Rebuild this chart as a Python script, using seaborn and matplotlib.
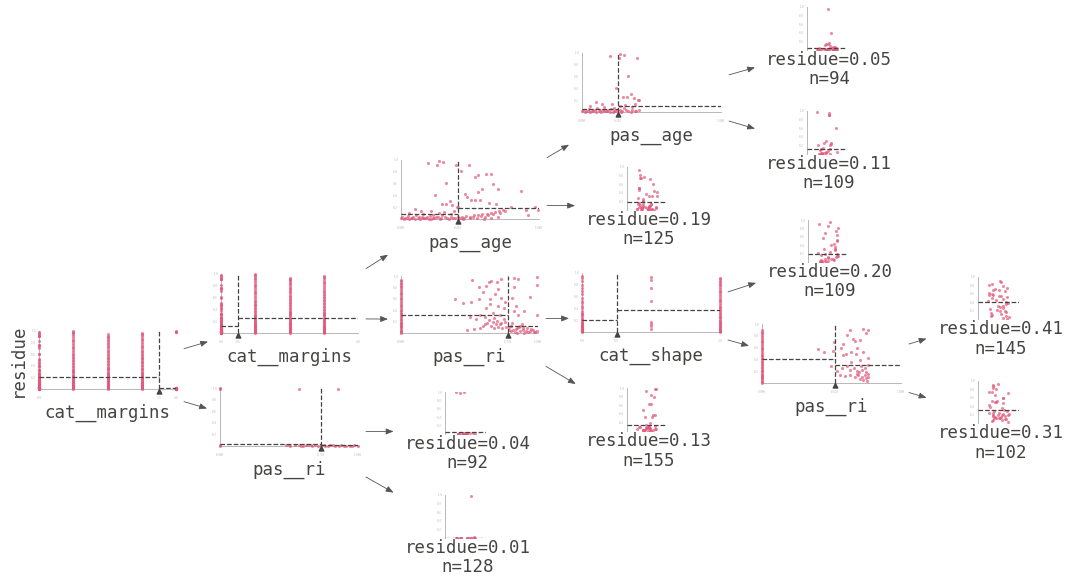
import numpy as np
import matplotlib.pyplot as plt
import seaborn as sns
from matplotlib.patches import FancyArrowPatch

np.random.seed(0)
sns.set_style("white")
plt.rcParams["font.family"] = ["DejaVu Sans Mono", "DejaVu Sans"]

PINK = "#E3587A"
DARK = "#444443"
AXIS = "#b8b8b8"
W, H = 1068, 580

leaf_names = ["L1", "L2", "L3", "L4", "L5", "L6", "L7", "L8", "L9"]
leaf_residue = [0.05, 0.11, 0.19, 0.13, 0.41, 0.31, 0.04, 0.01, 0.20]
leaf_n = [94, 109, 125, 155, 145, 102, 92, 128, 109]

children = {"root": ("n2", "n3"), "n2": ("n4", "n5"), "n3": ("L7", "L8"),
            "n4": ("n6", "L3"), "n5": ("n7", "L4"), "n6": ("L1", "L2"),
            "n7": ("L9", "n8"), "n8": ("L5", "L6")}
features = {"root": "cat__margins", "n2": "cat__margins", "n3": "pas__ri",
            "n4": "pas__age", "n5": "pas__ri", "n6": "pas__age",
            "n7": "cat__shape", "n8": "pas__ri"}
splits = {"root": 3.5, "n2": 0.5, "n3": 0.734, "n4": 0.415, "n5": 0.778,
          "n6": 0.257, "n7": 0.5, "n8": 0.528}
feature_range = {"cat__margins": (0, 4), "cat__shape": (0, 2),
                 "pas__ri": (0, 1), "pas__age": (0, 1)}

# ---- samples shown in the nodes ----
margins_1_res = [0.0, 0.01, 0.015, 0.02, 0.03, 0.04, 0.05, 0.06, 0.07, 0.08, 0.09, 0.1, 0.11,
                 0.12, 0.13, 0.14, 0.16, 0.17, 0.19, 0.2, 0.22, 0.23, 0.25, 0.27, 0.29, 0.31,
                 0.33, 0.35, 0.38, 0.4, 0.43, 0.45, 0.48, 0.5, 0.53, 0.55, 0.58, 0.61, 0.64,
                 0.67, 0.7, 0.73, 0.76, 0.79, 0.82, 0.85, 0.88, 0.91, 0.94, 0.96, 0.98, 1.0]
margins_2_res = [0.0, 0.01, 0.02, 0.03, 0.04, 0.05, 0.06, 0.07, 0.08, 0.09, 0.1, 0.115, 0.13,
                 0.145, 0.16, 0.175, 0.19, 0.21, 0.22, 0.24, 0.26, 0.28, 0.3, 0.32, 0.34, 0.36,
                 0.38, 0.41, 0.43, 0.46, 0.48, 0.51, 0.53, 0.56, 0.58, 0.61, 0.63, 0.66, 0.69,
                 0.72, 0.74, 0.77, 0.8, 0.83, 0.85, 0.88, 0.9, 0.92, 0.94]
margins_3_res = [0.0, 0.01, 0.02, 0.03, 0.04, 0.05, 0.06, 0.07, 0.08, 0.09, 0.1, 0.11, 0.125,
                 0.14, 0.155, 0.17, 0.185, 0.2, 0.22, 0.24, 0.26, 0.28, 0.3, 0.32, 0.34, 0.36,
                 0.39, 0.41, 0.44, 0.46, 0.49, 0.51, 0.54, 0.56, 0.59, 0.61, 0.64, 0.66, 0.69,
                 0.72, 0.75, 0.78, 0.81, 0.84, 0.87, 0.9, 0.93, 0.95, 0.97]

# (pas__ri, residue) for cat__margins == 4
n3_pts = [(0.0, 1.0), (0.0, 0.98), (0.576, 0.99), (0.857, 0.98), (0.0, 0.02), (0.0, 0.0),
          (0.48, 0.01), (0.51, 0.0), (0.54, 0.02), (0.57, 0.01), (0.6, 0.0), (0.62, 0.01),
          (0.64, 0.02), (0.67, 0.0), (0.69, 0.01), (0.71, 0.0), (0.73, 0.01), (0.76, 0.0),
          (0.78, 0.0), (0.8, 0.01), (0.83, 0.0), (0.86, 0.0), (0.88, 0.01), (0.91, 0.0),
          (0.94, 0.0), (0.97, 0.01), (1.0, 0.0), (0.5, 0.02), (0.59, 0.0), (0.66, 0.01),
          (0.75, 0.02), (0.82, 0.01), (0.9, 0.0), (0.96, 0.0)]

# (pas__age, residue) for cat__margins == 0
n4_pts = [(0.199, 0.95), (0.276, 0.975), (0.305, 0.965), (0.264, 0.91), (0.396, 0.91),
          (0.329, 0.61), (0.247, 0.40), (0.295, 0.26), (0.324, 0.26), (0.355, 0.31),
          (0.372, 0.23), (0.403, 0.2), (0.41, 0.21), (0.103, 0.17), (0.144, 0.14),
          (0.06, 0.11), (0.156, 0.09), (0.216, 0.14), (0.233, 0.07), (0.276, 0.11),
          (0.31, 0.12), (0.36, 0.09), (0.384, 0.14), (0.0, 0.01), (0.03, 0.02), (0.06, 0.0),
          (0.09, 0.03), (0.12, 0.01), (0.15, 0.04), (0.18, 0.02), (0.21, 0.05), (0.24, 0.01),
          (0.27, 0.03), (0.3, 0.06), (0.33, 0.02), (0.36, 0.04), (0.39, 0.01), (0.41, 0.03),
          (0.05, 0.05), (0.11, 0.06), (0.2, 0.0), (0.28, 0.0), (0.35, 0.0), (0.02, 0.0),
          (0.08, 0.01), (0.14, 0.0), (0.17, 0.01), (0.23, 0.02), (0.01, 0.03), (0.04, 0.01),
          (0.07, 0.02), (0.1, 0.0), (0.13, 0.03), (0.16, 0.02), (0.19, 0.04), (0.22, 0.0),
          (0.25, 0.03), (0.29, 0.01), (0.32, 0.04), (0.38, 0.02),
          (0.435, 0.82), (0.49, 0.92), (0.534, 0.71), (0.558, 0.75), (0.614, 0.755),
          (0.652, 0.76), (0.664, 0.60), (0.585, 0.51), (0.556, 0.45), (0.705, 0.50),
          (0.464, 0.42), (0.48, 0.38), (0.51, 0.33), (0.536, 0.32), (0.572, 0.33),
          (0.635, 0.27), (0.688, 0.26), (0.867, 0.47), (0.797, 0.21), (0.906, 0.16),
          (0.971, 0.21), (0.918, 0.07), (0.99, 0.15), (0.754, 0.13), (0.44, 0.03),
          (0.47, 0.05), (0.5, 0.04), (0.53, 0.06), (0.56, 0.07), (0.59, 0.08), (0.62, 0.09),
          (0.65, 0.1), (0.68, 0.12), (0.71, 0.13), (0.74, 0.15), (0.45, 0.0), (0.5, 0.01),
          (0.55, 0.02), (0.6, 0.0), (0.65, 0.02), (0.7, 0.03), (0.46, 0.02), (0.52, 0.03),
          (0.58, 0.05), (0.63, 0.06), (0.67, 0.08), (0.72, 0.1), (0.43, 0.01), (0.61, 0.04)]

# (pas__ri, residue) for cat__margins 1..3
n5_pts = [(0.0, 0.0), (0.0, 0.02), (0.0, 0.04), (0.0, 0.06), (0.0, 0.08), (0.0, 0.1),
          (0.0, 0.12), (0.0, 0.14), (0.0, 0.16), (0.0, 0.18), (0.0, 0.2), (0.0, 0.23),
          (0.0, 0.25), (0.0, 0.28), (0.0, 0.3), (0.0, 0.33), (0.0, 0.35), (0.0, 0.38),
          (0.0, 0.41), (0.0, 0.44), (0.0, 0.47), (0.0, 0.5), (0.0, 0.53), (0.0, 0.56),
          (0.0, 0.59), (0.0, 0.62), (0.0, 0.65), (0.0, 0.68), (0.0, 0.71), (0.0, 0.74),
          (0.0, 0.77), (0.0, 0.8), (0.0, 0.83), (0.0, 0.86), (0.0, 0.88), (0.0, 0.91),
          (0.0, 0.93),
          (0.395, 0.59), (0.449, 0.52), (0.517, 0.93), (0.51, 0.54), (0.571, 0.80),
          (0.571, 0.60), (0.602, 0.72), (0.622, 0.83), (0.641, 0.90), (0.656, 0.91),
          (0.698, 0.90), (0.707, 0.77), (0.732, 0.94), (0.732, 0.61), (0.685, 0.68),
          (0.651, 0.59), (0.617, 0.44), (0.651, 0.51), (0.707, 0.47), (0.668, 0.35),
          (0.576, 0.31), (0.505, 0.28), (0.549, 0.24), (0.61, 0.28), (0.68, 0.26),
          (0.724, 0.32), (0.749, 0.44), (0.761, 0.55), (0.48, 0.05), (0.53, 0.07),
          (0.58, 0.09), (0.61, 0.15), (0.63, 0.18), (0.66, 0.12), (0.69, 0.16), (0.70, 0.21),
          (0.72, 0.15), (0.74, 0.09), (0.76, 0.2), (0.77, 0.1), (0.75, 0.24), (0.64, 0.22),
          (0.67, 0.19), (0.71, 0.11), (0.73, 0.18), (0.6, 0.12), (0.68, 0.08),
          (0.824, 0.97), (0.854, 0.94), (0.822, 0.80), (0.812, 0.62), (0.841, 0.48),
          (0.827, 0.38), (0.856, 0.32), (0.895, 0.38), (0.944, 0.63), (0.993, 0.98),
          (0.993, 0.84), (0.993, 0.32), (0.79, 0.06), (0.82, 0.05), (0.85, 0.08),
          (0.87, 0.03), (0.89, 0.06), (0.91, 0.04), (0.94, 0.03), (0.96, 0.05), (0.98, 0.02),
          (0.8, 0.12), (0.88, 0.15), (0.79, 0.1), (0.83, 0.02), (0.86, 0.11), (0.92, 0.08),
          (0.97, 0.01), (0.81, 0.18), (0.9, 0.0), (0.84, 0.07), (0.87, 0.12), (0.93, 0.02),
          (0.95, 0.07), (0.99, 0.04), (0.8, 0.03), (0.85, 0.0), (0.89, 0.09)]

# residue by cat__shape (0 is the leaf with residue=0.20)
shape_0_res = [0.95, 0.91, 0.86, 0.8, 0.75, 0.69, 0.64, 0.58, 0.53, 0.49, 0.44, 0.4, 0.36, 0.32,
               0.28, 0.25, 0.22, 0.19, 0.16, 0.14, 0.12, 0.1, 0.08, 0.06, 0.05, 0.04, 0.03,
               0.02, 0.01, 0.0, 0.3, 0.2, 0.15, 0.11, 0.07, 0.03, 0.02, 0.01]
shape_1_res = [0.94, 0.88, 0.75, 0.52, 0.17, 0.13, 0.1, 0.05]
shape_2_res = [0.0, 0.01, 0.02, 0.04, 0.05, 0.07, 0.09, 0.1, 0.12, 0.13, 0.15, 0.17, 0.19,
               0.21, 0.23, 0.25, 0.27, 0.3, 0.32, 0.35, 0.37, 0.4, 0.43, 0.46, 0.49, 0.52,
               0.55, 0.58, 0.61, 0.64, 0.67, 0.7, 0.73, 0.76, 0.79, 0.82, 0.85, 0.87, 0.9,
               0.92]

# (pas__ri, residue) for cat__shape 1..2
n8_pts = [(0.0, 0.0), (0.0, 0.02), (0.0, 0.04), (0.0, 0.06), (0.0, 0.08), (0.0, 0.1),
          (0.0, 0.12), (0.0, 0.14), (0.0, 0.16), (0.0, 0.18), (0.0, 0.2), (0.0, 0.22),
          (0.0, 0.25), (0.0, 0.27), (0.0, 0.3), (0.0, 0.32), (0.0, 0.35), (0.0, 0.37),
          (0.0, 0.4), (0.0, 0.42), (0.0, 0.45), (0.0, 0.48), (0.0, 0.51), (0.0, 0.54),
          (0.0, 0.57), (0.0, 0.6), (0.0, 0.63), (0.0, 0.66), (0.0, 0.69), (0.0, 0.72),
          (0.0, 0.75), (0.0, 0.78), (0.0, 0.81), (0.0, 0.84), (0.0, 0.87), (0.0, 0.9),
          (0.4, 0.58), (0.446, 0.53), (0.508, 0.54), (0.518, 0.69), (0.566, 0.59),
          (0.58, 0.66), (0.614, 0.82), (0.634, 0.89), (0.658, 0.75), (0.672, 0.71),
          (0.687, 0.59), (0.725, 0.92), (0.745, 0.84), (0.764, 0.90), (0.706, 0.73),
          (0.639, 0.52), (0.605, 0.49), (0.586, 0.47), (0.677, 0.50), (0.73, 0.53),
          (0.76, 0.42), (0.706, 0.39), (0.643, 0.36), (0.499, 0.28), (0.542, 0.2),
          (0.573, 0.25), (0.608, 0.28), (0.631, 0.22), (0.66, 0.25), (0.684, 0.2),
          (0.711, 0.28), (0.74, 0.25), (0.764, 0.3), (0.56, 0.14), (0.598, 0.12),
          (0.634, 0.13), (0.67, 0.1), (0.694, 0.14), (0.718, 0.1), (0.742, 0.13),
          (0.766, 0.16), (0.73, 0.05), (0.754, 0.03), (0.706, 0.07), (0.682, 0.16),
          (0.747, 0.19), (0.72, 0.22), (0.75, 0.08), (0.7, 0.18), (0.76, 0.11)]


def unzip(pts):
    return [p[0] for p in pts], [p[1] for p in pts]


ri_n3, res_n3 = unzip(n3_pts)
age_n4, res_n4 = unzip(n4_pts)
ri_n5, res_n5 = unzip(n5_pts)
ri_n8, res_n8 = unzip(n8_pts)

age_n6 = [a for a in age_n4 if a < splits["n4"]]
res_n6 = [r for a, r in zip(age_n4, res_n4) if a < splits["n4"]]

node_data = {
    "root": ([0] * len(res_n4) + [1] * len(margins_1_res) + [2] * len(margins_2_res)
             + [3] * len(margins_3_res) + [4] * len(res_n3),
             res_n4 + margins_1_res + margins_2_res + margins_3_res + res_n3),
    "n2": ([0] * len(res_n4) + [1] * len(margins_1_res) + [2] * len(margins_2_res)
           + [3] * len(margins_3_res),
           res_n4 + margins_1_res + margins_2_res + margins_3_res),
    "n3": (ri_n3, res_n3),
    "n4": (age_n4, res_n4),
    "n5": (ri_n5, res_n5),
    "n6": (age_n6, res_n6),
    "n7": ([0] * len(shape_0_res) + [1] * len(shape_1_res) + [2] * len(shape_2_res),
           shape_0_res + shape_1_res + shape_2_res),
    "n8": (ri_n8, res_n8),
}


def side(node, left):
    xs, ys = node_data[node]
    s = splits[node]
    return [y for x, y in zip(xs, ys) if (x < s) == left]


leaf_data = {"L1": side("n6", True), "L2": side("n6", False), "L3": side("n4", False),
             "L4": side("n5", False), "L5": side("n8", True), "L6": side("n8", False),
             "L7": side("n3", True), "L8": side("n3", False), "L9": shape_0_res}
leaf_value = dict(zip(leaf_names, leaf_residue))
leaf_count = dict(zip(leaf_names, leaf_n))


def subtree(node):
    if node in leaf_value:
        return leaf_value[node] * leaf_count[node], leaf_count[node]
    a, b = children[node]
    sa, na = subtree(a)
    sb, nb = subtree(b)
    return sa + sb, na + nb


def mean_of(node):
    s, n = subtree(node)
    return s / n


# ---- layout (pixel boxes l, t, r, b of each plot) ----
rects = {"root": (39, 331, 176, 389), "n2": (221, 274, 358, 333), "n3": (220, 388, 358, 446),
         "n4": (401, 160, 539, 219), "n5": (401, 276, 538, 333), "n6": (582, 53, 721, 112),
         "n7": (582, 273, 720, 332), "n8": (762, 324, 901, 383),
         "L1": (807, 7, 847, 50), "L2": (807, 111, 847, 154), "L3": (627, 167, 667, 210),
         "L9": (808, 220, 848, 262), "L4": (627, 388, 667, 431), "L5": (978, 277, 1019, 319),
         "L6": (978, 381, 1019, 423), "L7": (445, 392, 486, 434), "L8": (445, 495, 486, 538)}

fig = plt.figure(figsize=(W / 100, H / 100), dpi=100)
TRI = [(0, 0), (-0.55, -1.1), (0.55, -1.1), (0, 0)]
PT = 72 / 100


def make_ax(name):
    l, t, r, b = rects[name]
    ax = fig.add_axes([l / W, 1 - b / H, (r - l) / W, (b - t) / H])
    for s in ["top", "right"]:
        ax.spines[s].set_visible(False)
    for s in ["left", "bottom"]:
        ax.spines[s].set_color(AXIS)
        ax.spines[s].set_linewidth(0.7)
    ax.tick_params(length=0, labelsize=2, labelcolor=AXIS, pad=2)
    ax.set_ylim(0, 1)
    ax.set_yticks([0.2, 0.4, 0.6, 0.8, 1.0])
    return ax


for node, (xs, ys) in node_data.items():
    ax = make_ax(node)
    feat = features[node]
    x0, x1 = feature_range[feat]
    s = splits[node]
    sns.scatterplot(x=xs, y=ys, ax=ax, color=PINK, s=5, alpha=0.7, linewidth=0,
                    legend=False, clip_on=False, zorder=3)
    ax.set_xlim(x0, x1)
    ax.set_ylim(0, 1)
    lm, rm = mean_of(children[node][0]), mean_of(children[node][1])
    ax.plot([x0, s], [lm, lm], ls="--", color=DARK, lw=0.9, zorder=4)
    ax.plot([s, x1], [rm, rm], ls="--", color=DARK, lw=0.9, zorder=4)
    ax.plot([s, s], [0, 1], ls="--", color=DARK, lw=0.9, zorder=4)
    ax.plot([s], [0], marker=TRI, ms=6.5, color=DARK, ls="none", clip_on=False, zorder=5)
    ax.set_xticks([x0, s, x1])
    ax.tick_params(axis="x", pad=5)
    ax.set_xlabel("")
    ax.set_ylabel("")
    ax.annotate(feat, xy=(0.5, 0), xycoords="axes fraction", xytext=(0, -24 * PT),
                textcoords="offset points", ha="center", va="center",
                fontsize=12.5, color=DARK)
    if node == "root":
        ax.annotate("residue", xy=(0, 0.5), xycoords="axes fraction",
                    xytext=(-21 * PT, 0), textcoords="offset points", rotation=90,
                    ha="center", va="center", fontsize=12.5, color=DARK)

for leaf in leaf_names:
    ax = make_ax(leaf)
    ax.spines["bottom"].set_visible(False)
    sns.stripplot(y=leaf_data[leaf], ax=ax, color=PINK, size=2.2, jitter=0.25,
                  alpha=0.7, linewidth=0, zorder=3)
    ax.set_xlim(-0.5, 0.5)
    ax.set_ylim(0, 1)
    ax.set_xticks([])
    ax.set_ylabel("")
    ax.axhline(leaf_value[leaf], ls="--", color=DARK, lw=0.9, zorder=4)
    ax.annotate(f"residue={leaf_value[leaf]:.2f}", xy=(0.5, 0), xycoords="axes fraction",
                xytext=(2 * PT, -10 * PT), textcoords="offset points", ha="center",
                va="center", fontsize=12.5, color=DARK)
    ax.annotate(f"n={leaf_count[leaf]}", xy=(0.5, 0), xycoords="axes fraction",
                xytext=(2 * PT, -29.5 * PT), textcoords="offset points", ha="center",
                va="center", fontsize=12.5, color=DARK)


# ---- edges ----
def node_box(name):
    l, t, r, b = rects[name]
    if name in leaf_value:
        cx = (l + r) / 2 + 2
        return (cx - 74, t - 4, cx + 74, b + 40)
    pad = 35 if name == "root" else 13
    return (l - pad, t - 6, r + 8, b + 36)


def exit_point(p, q, bx):
    d = q - p
    ts = []
    for k, lo, hi in ((0, bx[0], bx[2]), (1, bx[1], bx[3])):
        if d[k] > 0:
            ts.append((hi - p[k]) / d[k])
        elif d[k] < 0:
            ts.append((lo - p[k]) / d[k])
    return p + min(ts) * d


for parent, kids in children.items():
    ba = node_box(parent)
    ca = np.array([(ba[0] + ba[2]) / 2, (ba[1] + ba[3]) / 2])
    for kid in kids:
        bb = node_box(kid)
        cb = np.array([(bb[0] + bb[2]) / 2, (bb[1] + bb[3]) / 2])
        pa = exit_point(ca, cb, ba)
        pb = exit_point(cb, ca, bb)
        arrow = FancyArrowPatch((pa[0] / W, 1 - pa[1] / H), (pb[0] / W, 1 - pb[1] / H),
                                transform=fig.transFigure,
                                arrowstyle="-|>,head_length=0.5,head_width=0.2",
                                mutation_scale=9, color="#555555", lw=0.6,
                                shrinkA=0, shrinkB=0)
        fig.add_artist(arrow)

fig.savefig("out.png", dpi=100)
